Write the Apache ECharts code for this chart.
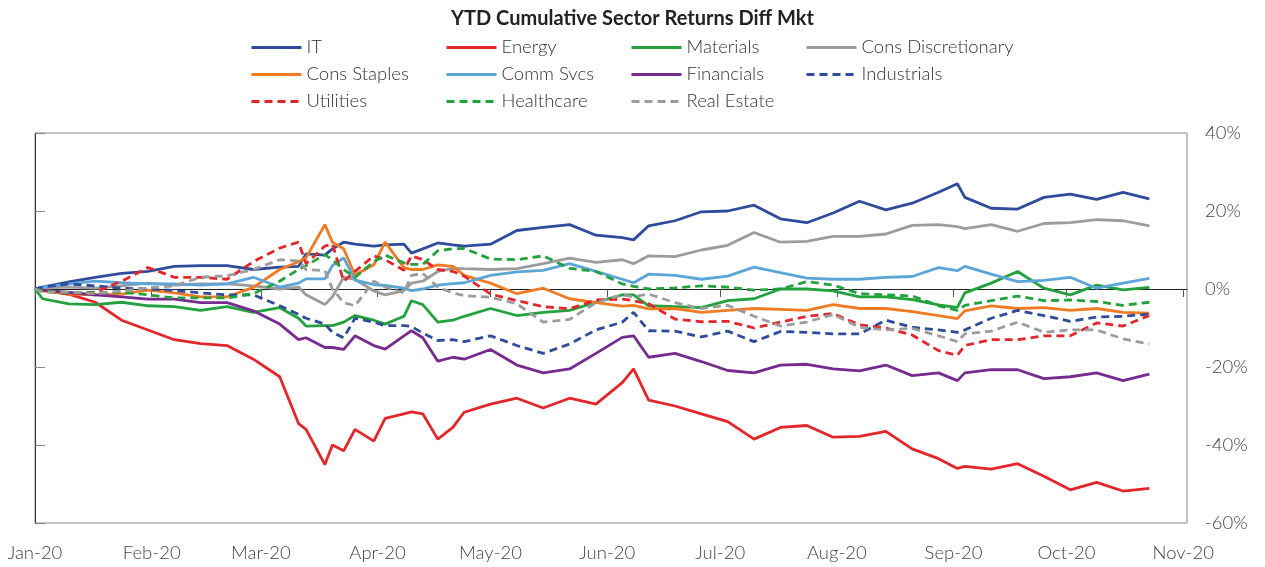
<!DOCTYPE html>
<html>
<head>
<meta charset="utf-8">
<script src="https://cdn.jsdelivr.net/npm/echarts@6/dist/echarts.min.js"></script>
<style>
  html, body { margin: 0; padding: 0; background: #fff; }
  #chart { width: 1265px; height: 567px; }
</style>
</head>
<body>
<div id="chart"></div>
<script>
// sample dates (weekly, denser in the March/April swings)
var dates = ['2020-01-01','2020-01-03','2020-01-10','2020-01-17','2020-01-24','2020-01-31',
  '2020-02-07','2020-02-14','2020-02-21','2020-02-28',
  '2020-03-06','2020-03-11','2020-03-13','2020-03-18','2020-03-20','2020-03-23','2020-03-26','2020-03-31',
  '2020-04-03','2020-04-08','2020-04-10','2020-04-13','2020-04-17','2020-04-21','2020-04-24',
  '2020-05-01','2020-05-08','2020-05-15','2020-05-22','2020-05-29',
  '2020-06-05','2020-06-08','2020-06-12','2020-06-19','2020-06-26',
  '2020-07-03','2020-07-10','2020-07-17','2020-07-24','2020-07-31',
  '2020-08-07','2020-08-14','2020-08-21','2020-08-28',
  '2020-09-02','2020-09-04','2020-09-11','2020-09-18','2020-09-25',
  '2020-10-02','2020-10-09','2020-10-16','2020-10-23'];

var it = [0,0.5,1.8,3,4,4.5,5.8,6,6,5,5.6,5.8,9,8.7,10.3,12,11.5,11,11.3,11.5,9.2,10.3,11.8,11.3,11,
  11.5,15,15.8,16.5,13.8,13.2,12.6,16.2,17.5,19.8,20,21.5,18,17,19.5,22.5,20.3,22,24.8,27,23.5,20.7,20.5,23.5,24.3,23,24.8,23.1];
var energy = [0,0,-1.3,-3.4,-8,-10.5,-13,-14,-14.5,-18,-22.5,-34.5,-36,-45,-40,-41.5,-36,-39,-33.2,-32,-31.5,-32,-38.5,-35.5,-31.6,
  -29.5,-28,-30.5,-28,-29.5,-24,-20.5,-28.5,-30,-32,-34,-38.5,-35.5,-35,-38,-37.8,-36.5,-41,-43.5,-46,-45.5,-46.2,-44.8,-48,-51.5,-49.6,-51.8,-51.1];
var materials = [0,-2.5,-3.8,-4,-3.4,-4.3,-4.5,-5.5,-4.5,-6,-4.8,-7.5,-9.5,-9.4,-9.4,-8.5,-6.8,-8,-9,-7,-3,-4,-8.5,-8,-7,
  -5,-6.8,-6,-5.5,-3.4,-1.5,-1.5,-4.3,-4.5,-4.8,-3,-2.5,0,0,-0.5,-2,-2,-2.7,-4.1,-4.7,-1,1.5,4.5,0.2,-1.5,1,-0.2,0.4];
var consDisc = [0,0.3,0.5,0.2,0.8,1.5,1,1.3,1.3,0.8,0,0.5,-1.5,-4,-2,3,2.5,-0.5,-1.5,-0.4,1.5,2,4.5,5.3,5.2,
  5,5.2,6.5,7.9,6.8,7.5,6.5,8.5,8.3,10,11.2,14.5,12,12.2,13.5,13.5,14.1,16.3,16.5,16,15.5,16.5,14.8,16.8,17,17.8,17.5,16.2];
var consStaples = [0,-0.5,-1.3,-1.5,-1.3,-0.3,-1,-2,-2,0.4,5,7,8,16.5,12,10.3,3.6,6.2,12,5.5,5,5,6.2,5.8,3.5,
  1.5,-1.2,0.2,-2.5,-3.5,-4.4,-4.2,-5.1,-5,-6,-5.5,-5,-5.2,-5.5,-4,-5,-5,-5.8,-6.8,-7.6,-5.6,-4.3,-5,-4.8,-5.5,-5,-6,-6.2];
var commSvcs = [0,0.5,1.3,2,1.6,1.3,1.3,1,1.3,3,0.5,1.5,2.6,2.6,6,8,2.3,1.1,0.9,0.2,-0.4,0,1,1.4,1.6,
  3.5,4.4,4.8,6.5,4.5,2.5,1.6,3.8,3.5,2.5,3.3,5.6,4.2,2.8,2.5,2.5,3,3.2,5.5,4.7,5.8,3.8,1.9,2.2,3,0.2,1.5,2.7];
var financials = [0,-0.3,-0.9,-1.5,-2,-2.6,-2.6,-3.5,-3.5,-5.6,-9,-13,-12.5,-15,-15,-15.5,-12,-14.5,-15.4,-12,-10.7,-12.5,-18.5,-17.5,-18,
  -15.5,-19.5,-21.5,-20.5,-16.5,-12.4,-12,-17.5,-16.5,-18.6,-20.9,-21.5,-19.5,-19.3,-20.5,-21,-19.5,-22.2,-21.5,-23.5,-21.5,-20.7,-20.7,-23,-22.5,-21.5,-23.5,-21.8];
var industrials = [0,0.5,1.3,0.8,0.2,0,-0.4,-1,-1.5,-1.5,-4.3,-6.5,-7.5,-9,-11.1,-12.5,-7.5,-8.5,-9.4,-9.4,-9.6,-11.3,-13.2,-13,-13.5,
  -12,-14.5,-16.5,-14.1,-10.5,-8.5,-6,-10.7,-10.8,-12.3,-10.8,-13.5,-10.9,-11.1,-11.5,-11.5,-8,-9.8,-10.5,-11.1,-10.5,-7.5,-5.5,-6.8,-8.3,-7.2,-7,-6.4];
var utilities = [0,-0.5,-1.3,-0.8,2,5.5,3,3,2.5,7,10.5,12,6.5,11,11.5,2,4.5,8.5,7.5,4.8,8.5,7.5,5,4.5,3.3,
  -1.3,-3,-4.5,-5.1,-2.8,-2.6,-3,-3.8,-7.7,-8.4,-8.3,-10,-8.5,-7,-6.3,-9.2,-10,-11.8,-15.8,-17,-14.5,-13,-13,-12,-12,-8.7,-9.5,-6.8];
var healthcare = [0,-0.5,-0.9,-1,-0.8,-1.5,-2.3,-2.3,-2.3,-1.2,2,5,6,8.8,7.5,5,3,7,8.7,6.7,6.3,6.3,9.8,10.3,10.4,
  7.7,7.5,8.5,5.3,4.5,1.3,0.7,0,0.3,0.8,0.5,-0.3,0,1.9,1,-1.2,-1.5,-1.8,-4.3,-5.5,-4.2,-3,-1.8,-3,-2.8,-3.2,-4.2,-3.4];
var realEstate = [0,-0.8,-0.8,-1.2,-0.5,0.3,0.8,3,3.4,5,7.5,7.2,5,4.7,0,-3.5,-4.3,2,0.5,-1,3.5,4,0.5,-1,-1.7,
  -2.1,-3.8,-8.5,-7.8,-3.5,-1.5,-2,-1.3,-3.5,-5,-4.2,-7,-9.5,-8.5,-6.5,-9.8,-10.5,-10.1,-12,-13.5,-11.5,-10.8,-8.5,-11.1,-10.5,-10.5,-12.8,-14.1];

// axis labels
var monthLabels = ['Jan-20','Feb-20','Mar-20','Apr-20','May-20','Jun-20','Jul-20','Aug-20','Sep-20','Oct-20','Nov-20'];
var monthDates = ['2020-01-01','2020-02-01','2020-03-01','2020-04-01','2020-05-01','2020-06-01',
  '2020-07-01','2020-08-01','2020-09-01','2020-10-01','2020-11-01'];
var yTicks = [-60, -40, -20, 0, 20, 40];

// x is measured in days since 1 Jan 2020
var DAY = 86400000, T0 = Date.parse('2020-01-01');
function dayOf(s) { return Math.round((Date.parse(s) - T0) / DAY); }
var monthStarts = monthDates.map(dayOf);

var blue = '#2f4c9c', red = '#e3262a', green = '#22a13d', grey = '#9c9c9c',
    orange = '#f07b22', lightBlue = '#5ba6d7', purple = '#772a8f';
var dash = [8, 5];

var defs = [
  ['IT', it, blue, 'solid'],
  ['Energy', energy, red, 'solid'],
  ['Materials', materials, green, 'solid'],
  ['Cons Discretionary', consDisc, grey, 'solid'],
  ['Cons Staples', consStaples, orange, 'solid'],
  ['Comm Svcs', commSvcs, lightBlue, 'solid'],
  ['Financials', financials, purple, 'solid'],
  ['Industrials', industrials, blue, dash],
  ['Utilities', utilities, red, dash],
  ['Healthcare', healthcare, green, dash],
  ['Real Estate', realEstate, grey, dash]
];

var series = defs.map(function (d) {
  return {
    name: d[0],
    type: 'line',
    xAxisIndex: 0,
    showSymbol: false,
    symbol: 'none',
    color: d[2],
    lineStyle: { color: d[2], width: 2.8, type: d[3] },
    data: dates.map(function (t, i) { return [dayOf(t), d[1][i]]; })
  };
});

var font = 'Lato, "Open Sans", sans-serif';
function legendCol(left, names) {
  return {
    orient: 'vertical',
    left: left,
    top: 33,
    itemWidth: 50,
    itemHeight: 20,
    itemGap: 8,
    selectedMode: false,
    itemStyle: { opacity: 0 },
    lineStyle: { width: 3 },
    textStyle: { fontFamily: font, fontSize: 18.5, fontWeight: 300, color: '#333' },
    data: names
  };
}

var chart = echarts.init(document.getElementById('chart'));
chart.setOption({
  animation: false,
  title: {
    text: 'YTD Cumulative Sector Returns Diff Mkt',
    left: 'center',
    top: 4,
    textStyle: { fontFamily: font, fontSize: 20, fontWeight: 'bold', color: '#222' }
  },
  legend: [
    legendCol(245, ['IT', 'Cons Staples', 'Utilities']),
    legendCol(440, ['Energy', 'Comm Svcs', 'Healthcare']),
    legendCol(625, ['Materials', 'Financials', 'Real Estate']),
    legendCol(800, ['Cons Discretionary', 'Industrials'])
  ],
  grid: {
    left: 35, right: 78, top: 133, bottom: 44,
    show: true, borderColor: '#8a8a8a', borderWidth: 1,
    containLabel: false
  },
  xAxis: [{
    type: 'value',
    min: 0,
    max: 306,
    position: 'bottom',
    axisLine: { show: false, onZero: false },
    axisTick: { show: false },
    splitLine: { show: false },
    axisLabel: {
      customValues: monthStarts,
      margin: 21,
      fontFamily: font, fontSize: 18.5, fontWeight: 300, color: '#444',
      formatter: function (v) {
        var i = monthStarts.indexOf(v);
        return i >= 0 ? monthLabels[i] : '';
      }
    }
  }, {
    type: 'value',
    min: 0,
    max: 306,
    position: 'bottom',
    axisLine: { show: true, onZero: true, onZeroAxisIndex: 0, lineStyle: { color: '#222', width: 1 } },
    axisTick: { show: true, customValues: monthStarts, length: 8, lineStyle: { color: '#555' } },
    axisLabel: { show: false },
    splitLine: { show: false }
  }],
  yAxis: {
    type: 'value',
    position: 'right',
    min: -60, max: 40, interval: 20,
    axisLine: { show: true, lineStyle: { color: '#333' } },
    axisTick: { show: true, length: 10, lineStyle: { color: '#888' } },
    splitLine: { show: false },
    axisLabel: {
      margin: 18,
      fontFamily: font, fontSize: 18.5, fontWeight: 300, color: '#444',
      formatter: function (v) { return yTicks.indexOf(v) >= 0 ? v + '%' : ''; }
    }
  },
  series: series
});
</script>
</body>
</html>
